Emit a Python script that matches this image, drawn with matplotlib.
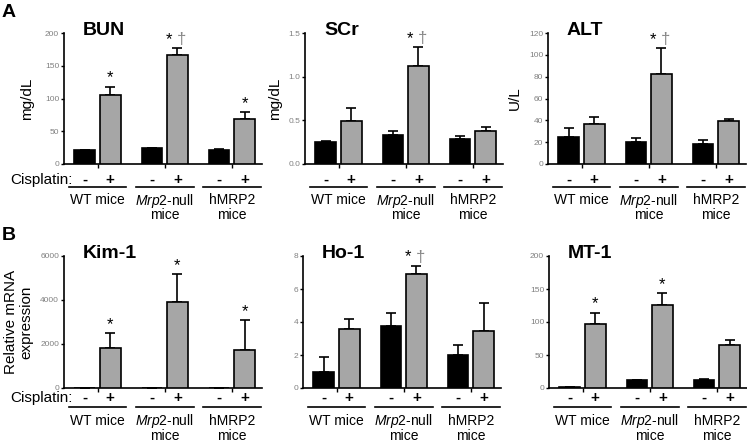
import matplotlib
matplotlib.use("Agg")
import matplotlib.pyplot as plt
import matplotlib.transforms as mtransforms
from matplotlib.lines import Line2D
import numpy as np

plt.rcParams['font.family'] = ['Liberation Sans', 'DejaVu Sans']
plt.rcParams['mathtext.fontset'] = 'custom'
plt.rcParams['mathtext.it'] = 'Liberation Sans:italic'
plt.rcParams['mathtext.rm'] = 'Liberation Sans'

# ---------------- data ----------------
group_line1 = ["WT mice", "$\\mathit{Mrp2}$-null", "hMRP2"]
group_line2 = ["", "mice", "mice"]
signs = ["-", "+"]

bun_ctrl = [21, 24, 22]
bun_ctrl_err = [1, 1, 1]
bun_cis = [106, 167, 68]
bun_cis_err = [12, 9.5, 11]
bun_marks = ["*", "*†", "*"]

scr_ctrl = [0.252, 0.336, 0.282]
scr_ctrl_err = [0.006, 0.04, 0.04]
scr_cis = [0.496, 1.118, 0.382]
scr_cis_err = [0.14, 0.22, 0.04]
scr_marks = ["", "*†", ""]

alt_ctrl = [24.4, 19.8, 18.6]
alt_ctrl_err = [8.5, 3.7, 3.0]
alt_cis = [36.6, 82.1, 39.7]
alt_cis_err = [6.4, 24.0, 1.5]
alt_marks = ["", "*†", ""]

kim_ctrl = [0, 0, 20]
kim_ctrl_err = [0, 0, 0]
kim_cis = [1800, 3900, 1750]
kim_cis_err = [700, 1270, 1350]
kim_marks = ["*", "*", "*"]

ho_ctrl = [1.0, 3.76, 2.0]
ho_ctrl_err = [0.87, 0.79, 0.63]
ho_cis = [3.56, 6.89, 3.45]
ho_cis_err = [0.6, 0.52, 1.72]
ho_marks = ["", "*†", ""]

mt_ctrl = [1.5, 11.6, 12.6]
mt_ctrl_err = [0.3, 1.0, 1.0]
mt_cis = [97, 126, 65.7]
mt_cis_err = [17, 18, 7.5]
mt_marks = ["*", "*", ""]

panels = [
    dict(title="BUN", ctrl=bun_ctrl, ce=bun_ctrl_err, cis=bun_cis, ie=bun_cis_err,
         marks=bun_marks, yticks=[0, 50, 100, 150, 200], ytl=None,
         ylabel="mg/dL", ylx=-0.187, row=0),
    dict(title="SCr", ctrl=scr_ctrl, ce=scr_ctrl_err, cis=scr_cis, ie=scr_cis_err,
         marks=scr_marks, yticks=[0, 0.5, 1.0, 1.5], ytl=["0.0", "0.5", "1.0", "1.5"],
         ylabel="mg/dL", ylx=-0.152, row=0),
    dict(title="ALT", ctrl=alt_ctrl, ce=alt_ctrl_err, cis=alt_cis, ie=alt_cis_err,
         marks=alt_marks, yticks=[0, 20, 40, 60, 80, 100, 120], ytl=None,
         ylabel="U/L", ylx=-0.167, row=0),
    dict(title="Kim-1", ctrl=kim_ctrl, ce=kim_ctrl_err, cis=kim_cis, ie=kim_cis_err,
         marks=kim_marks, yticks=[0, 2000, 4000, 6000], ytl=None,
         ylabel="Relative mRNA\nexpression", ylx=-0.23, row=1),
    dict(title="Ho-1", ctrl=ho_ctrl, ce=ho_ctrl_err, cis=ho_cis, ie=ho_cis_err,
         marks=ho_marks, yticks=[0, 2, 4, 6, 8], ytl=None,
         ylabel=None, ylx=0, row=1),
    dict(title="MT-1", ctrl=mt_ctrl, ce=mt_ctrl_err, cis=mt_cis, ie=mt_cis_err,
         marks=mt_marks, yticks=[0, 50, 100, 150, 200], ytl=None,
         ylabel=None, ylx=0, row=1),
]

# ---------------- layout (pixels) ----------------
W, H = 747, 443
fig = plt.figure(figsize=(W / 100, H / 100), dpi=100)

lefts = [[64, 305, 548], [64, 303, 549]]
width_px = 198
row_top = [33, 256]
row_bot = [164, 388]
# offsets below axis in px: signs center, line, label baselines
row_off = [dict(sign=16, line=23, lab1=40.5, lab2=55),
           dict(sign=10, line=19, lab1=37, lab2=51.5)]

x = np.arange(3)
off = 0.19
bw = 0.31
gray = "#a6a6a6"
px2pt = 72 / 100

for i, p in enumerate(panels):
    r = p["row"]
    c = i % 3
    l = lefts[r][c]
    ax = fig.add_axes([l / W, 1 - row_bot[r] / H, width_px / W, (row_bot[r] - row_top[r]) / H])
    ax.bar(x - off, p["ctrl"], bw, color="black", edgecolor="black", linewidth=1.2, zorder=3)
    ax.bar(x + off, p["cis"], bw, color=gray, edgecolor="black", linewidth=1.2, zorder=3)
    ax.errorbar(x - off, p["ctrl"], yerr=[np.zeros(3), p["ce"]], fmt="none",
                ecolor="black", elinewidth=1.2, capsize=3.6, capthick=1.2, zorder=2)
    ax.errorbar(x + off, p["cis"], yerr=[np.zeros(3), p["ie"]], fmt="none",
                ecolor="black", elinewidth=1.2, capsize=3.6, capthick=1.2, zorder=2)

    ax.set_xlim(-0.5, 2.45)
    ax.set_ylim(0, p["yticks"][-1])
    ax.set_yticks(p["yticks"])
    if p["ytl"] is not None:
        ax.set_yticklabels(p["ytl"])
    ax.set_xticks(x)
    ax.set_xticklabels([])
    for s in ["top", "right"]:
        ax.spines[s].set_visible(False)
    for s in ["left", "bottom"]:
        ax.spines[s].set_linewidth(1.2)
        ax.spines[s].set_color("black")
    ax.tick_params(axis="y", direction="out", length=2.5, width=1.0, labelsize=6,
                   labelcolor="#808080", pad=1)
    ax.tick_params(axis="x", direction="out", length=2.8, width=1.0)

    if p["ylabel"]:
        ax.set_ylabel(p["ylabel"], fontsize=11, linespacing=1.1)
        ax.yaxis.label.set_verticalalignment("center")
        ax.yaxis.set_label_coords(p["ylx"], 0.5)

    # title
    ax.annotate(p["title"], xy=(0, 1), xycoords="axes fraction",
                xytext=(19 * px2pt, -2 * px2pt), textcoords="offset points",
                ha="left", va="baseline", fontsize=14, fontweight="bold")

    # significance marks
    for g in range(3):
        m = p["marks"][g]
        top = p["cis"][g] + p["ie"][g]
        if m == "*":
            ax.annotate("*", xy=(x[g] + off, top), xycoords="data",
                        xytext=(0, 3), textcoords="offset points",
                        ha="center", va="baseline", fontsize=12)
        elif m == "*†":
            ax.annotate("*", xy=(x[g] + off, top), xycoords="data",
                        xytext=(-8 * px2pt, 3), textcoords="offset points",
                        ha="center", va="baseline", fontsize=12)
            ax.annotate("†", xy=(x[g] + off, top), xycoords="data",
                        xytext=(4 * px2pt, 3), textcoords="offset points",
                        ha="center", va="baseline", fontsize=12, color="#888888")

    # cisplatin signs, lines, group labels
    o = row_off[r]
    xt = ax.get_xaxis_transform()
    for g in range(3):
        for k, sx in enumerate([x[g] - off, x[g] + off]):
            ax.annotate(signs[k], xy=(sx, 0), xycoords=xt,
                        xytext=(0, -o["sign"] * px2pt), textcoords="offset points",
                        ha="center", va="center", fontsize=11, fontweight="bold",
                        annotation_clip=False)
        tr = xt + mtransforms.ScaledTranslation(0, -o["line"] / 100, fig.dpi_scale_trans)
        ln = Line2D([x[g] - 0.43, x[g] + 0.43], [0, 0], transform=tr, color="black",
                    linewidth=1.2, clip_on=False)
        ax.add_line(ln)
        ax.annotate(group_line1[g], xy=(x[g], 0), xycoords=xt,
                    xytext=(0, -o["lab1"] * px2pt), textcoords="offset points",
                    ha="center", va="baseline", fontsize=10, annotation_clip=False)
        if group_line2[g]:
            ax.annotate(group_line2[g], xy=(x[g], 0), xycoords=xt,
                        xytext=(0, -o["lab2"] * px2pt), textcoords="offset points",
                        ha="center", va="baseline", fontsize=10, annotation_clip=False)
    if c == 0:
        ax.annotate("Cisplatin:", xy=(0, 0), xycoords="axes fraction",
                    xytext=(9 * px2pt, -o["sign"] * px2pt), textcoords="offset points",
                    ha="right", va="center", fontsize=11, annotation_clip=False)

fig.text(2 / W, 1 - 4 / H, "A", fontsize=14, fontweight="bold", ha="left", va="top")
fig.text(2 / W, 1 - 227 / H, "B", fontsize=14, fontweight="bold", ha="left", va="top")

fig.savefig("out.png", dpi=100)
